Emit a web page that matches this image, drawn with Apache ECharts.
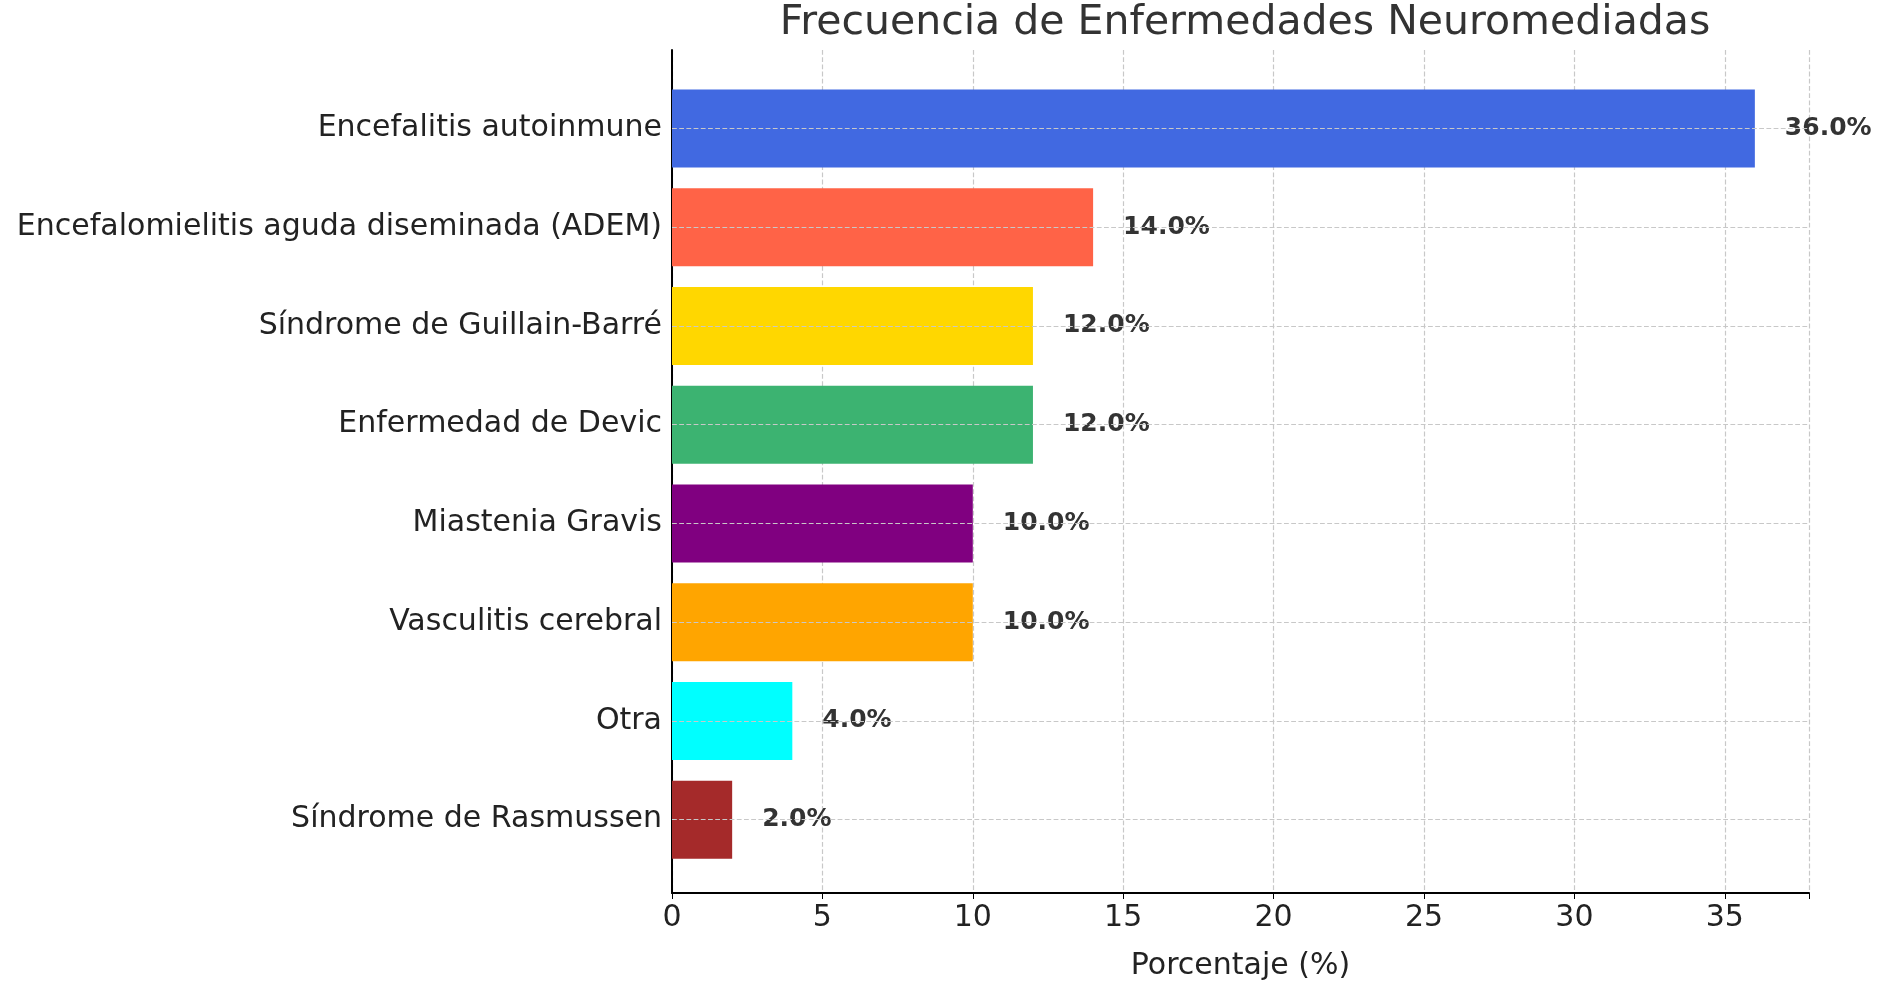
<!DOCTYPE html>
<html>
<head>
<meta charset="utf-8">
<script src="https://cdn.jsdelivr.net/npm/echarts@6/dist/echarts.min.js"></script>
<style>html,body{margin:0;background:#fff}#chart{width:1880px;height:986px}</style>
</head>
<body>
<div id="chart"></div>
<script>
const categories = [
  'Encefalitis autoinmune',
  'Encefalomielitis aguda diseminada (ADEM)',
  'Síndrome de Guillain-Barré',
  'Enfermedad de Devic',
  'Miastenia Gravis',
  'Vasculitis cerebral',
  'Otra',
  'Síndrome de Rasmussen',
];
const values = [36, 14, 12, 12, 10, 10, 4, 2];
const colors = ['#4169E1', '#FF6347', '#FFD700', '#3CB371', '#800080', '#FFA500', '#00FFFF', '#A52A2A'];

const font = 'DejaVu Sans';
const chart = echarts.init(document.getElementById('chart'));

chart.setOption({
  animation: false,
  textStyle: { fontFamily: font },
  title: {
    text: 'Frecuencia de Enfermedades Neuromediadas',
    left: 1240, top: -2, textAlign: 'center',
    textStyle: { fontFamily: font, fontSize: 41, fontWeight: 'normal', color: '#333' },
  },
  grid: [
    // bars: category bands
    { left: 672, right: 71, top: 79, bottom: 117 },
    // axes frame
    { left: 672, right: 71, top: 50, bottom: 89 },
  ],
  xAxis: [
    { gridIndex: 0, type: 'value', min: 0, max: 37.8, show: false },
    {
      gridIndex: 1, type: 'value', min: 0, max: 37.8, interval: 5,
      axisLine: { show: true, lineStyle: { color: '#000', width: 2 } },
      axisTick: { show: true, length: 6, lineStyle: { color: '#000' } },
      axisLabel: {
        fontSize: 30, color: '#222', margin: 10,
        formatter: v => (v % 5 === 0 ? String(v) : ''),
      },
      splitLine: { show: true, lineStyle: { type: 'dashed', color: '#c8c8c8', width: 1.2 } },
      name: 'Porcentaje (%)', nameLocation: 'middle', nameGap: 58,
      nameTextStyle: { fontSize: 30, color: '#222' },
    },
  ],
  yAxis: [
    {
      gridIndex: 0, type: 'category', inverse: true, data: categories,
      axisLine: { show: false },
      axisTick: { show: false },
      splitLine: { show: false },
      axisLabel: { fontSize: 30, color: '#222', margin: 10 },
    },
    {
      gridIndex: 1, type: 'value', min: 0, max: 1,
      axisLine: { show: true, lineStyle: { color: '#000', width: 2 } },
      axisTick: { show: false }, axisLabel: { show: false }, splitLine: { show: false },
    },
  ],
  series: [{
    type: 'bar',
    xAxisIndex: 0, yAxisIndex: 0,
    barWidth: 78,
    data: values.map((v, i) => ({ value: v, itemStyle: { color: colors[i] } })),
    label: {
      show: true, position: 'right', distance: 30,
      fontSize: 25, fontWeight: 'bold', color: '#333',
      formatter: p => p.value.toFixed(1) + '%',
    },
    markLine: {
      silent: true, symbol: 'none', label: { show: false },
      lineStyle: { type: 'dashed', color: '#c8c8c8', width: 1.2 },
      data: categories.map(c => ({ yAxis: c })),
    },
    z: 3,
  }],
});
</script>
</body>
</html>
